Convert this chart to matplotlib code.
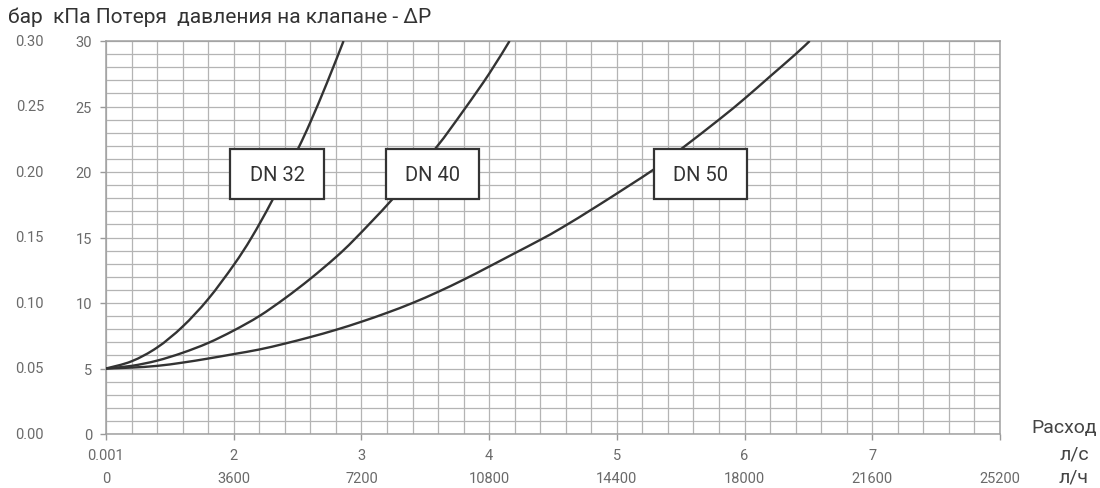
import numpy as np
import matplotlib
matplotlib.use('Agg')
import matplotlib.pyplot as plt
from matplotlib import transforms
from matplotlib.patches import Rectangle, PathPatch
from matplotlib.path import Path

plt.rcParams['font.family'] = ['Roboto', 'DejaVu Sans']

# flow (l/s scale position) vs pressure drop (kPa)
dn32_x = [0, 0.2, 0.4, 0.6, 0.8, 1.0, 1.14, 1.30, 1.50, 1.60, 1.73, 1.86]
dn32_y = [5, 5.55, 6.6, 8.2, 10.3, 12.9, 15.0, 17.8, 21.7, 23.8, 26.8, 30.0]

dn40_x = [0, 0.2, 0.4, 0.6, 0.8, 1.0, 1.2, 1.4, 1.6, 1.8, 1.95, 2.24, 2.58, 2.80, 3.00, 3.16]
dn40_y = [5, 5.2, 5.6, 6.2, 6.95, 7.9, 9.0, 10.35, 11.85, 13.5, 14.9, 17.9, 21.8, 24.7, 27.5, 30.0]

dn50_x = [0, 0.2, 0.4, 0.6, 0.8, 1.0, 1.2, 1.4, 1.6, 1.8, 2.0, 2.2, 2.4, 2.6, 2.8, 3.0,
          3.2, 3.4, 3.57, 3.87, 4.29, 4.50, 4.8, 5.0, 5.2, 5.4, 5.51]
dn50_y = [5, 5.07, 5.2, 5.45, 5.76, 6.1, 6.45, 6.9, 7.4, 7.95, 8.57, 9.25, 10.0, 10.85, 11.78, 12.78,
          13.8, 14.82, 15.75, 17.55, 20.2, 21.73, 24.0, 25.6, 27.3, 29.0, 30.0]

curve_names = ['DN 32', 'DN 40', 'DN 50']

kpa_ticks = [0, 5, 10, 15, 20, 25, 30]
bar_labels = ['0.00', '0.05', '0.10', '0.15', '0.20', '0.25', '0.30']
ls_labels = ['0.001', '2', '3', '4', '5', '6', '7', '']
lh_labels = ['0', '3600', '7200', '10800', '14400', '18000', '21600', '25200']


def smooth_path(xs, ys):
    # Catmull-Rom through the read points, drawn as cubic Bezier segments
    pts = np.column_stack([xs, ys]).astype(float)
    verts = [pts[0]]
    codes = [Path.MOVETO]
    n = len(pts)
    for i in range(n - 1):
        p0 = pts[i - 1] if i > 0 else pts[i]
        p1, p2 = pts[i], pts[i + 1]
        p3 = pts[i + 2] if i + 2 < n else pts[i + 1]
        verts += [p1 + (p2 - p0) / 6, p2 - (p3 - p1) / 6, p2]
        codes += [Path.CURVE4] * 3
    return Path(verts, codes)


W, H = 1100, 489
fig = plt.figure(figsize=(W / 100, H / 100), dpi=100)
ax = fig.add_axes([106 / W, 1 - 435 / H, 894 / W, 393 / H])

LINE = '#333333'
GRID = '#b4b4b4'
TXT = '#6a6a6a'

for xs, ys in [(dn32_x, dn32_y), (dn40_x, dn40_y), (dn50_x, dn50_y)]:
    ax.add_patch(PathPatch(smooth_path(xs, ys), facecolor='none', edgecolor=LINE,
                           lw=1.7, zorder=3, capstyle='butt'))

ax.set_xlim(0, 7)
ax.set_ylim(0, 30)

# grid
ax.set_xticks(np.arange(0, 7.001, 0.2), minor=True)
ax.set_yticks(np.arange(0, 31, 1), minor=True)
ax.grid(which='both', color=GRID, lw=0.9, zorder=1)
ax.set_axisbelow(True)

ax.set_xticks(range(8))
ax.set_xticklabels([a + '\n' + b for a, b in zip(ls_labels, lh_labels)], linespacing=1.8)
ax.set_yticks(kpa_ticks)
ax.set_yticklabels([str(v) for v in kpa_ticks])
ax.tick_params(which='minor', length=0)
ax.tick_params(which='major', length=4, width=1, color='#999999', labelcolor=TXT, labelsize=10.5, pad=6)

for s in ax.spines.values():
    s.set_color('#a0a0a0')
    s.set_linewidth(1.1)

# bar column
tr = transforms.blended_transform_factory(fig.transFigure, ax.transData)
for v, lab in zip(kpa_ticks, bar_labels):
    fig.text(44 / W, v, lab, transform=tr, ha='right', va='center', fontsize=10.5, color=TXT)

# curve label boxes
box_cx = [1.339, 2.554, 4.657]
box_w, box_y0, box_h = 0.73, 17.96, 3.77
for cx, name in zip(box_cx, curve_names):
    ax.add_patch(Rectangle((cx - box_w / 2, box_y0), box_w, box_h, facecolor='white',
                           edgecolor=LINE, lw=1.6, zorder=4))
    ax.text(cx, box_y0 + box_h / 2, name, ha='center', va='center', fontsize=14.5,
            color='#333333', zorder=5)

fig.text(8 / W, 1 - 17 / H, 'бар  кПа Потеря  давления на клапане - ΔР', ha='left',
         va='center', fontsize=15, color='#333333')
fig.text(1097 / W, 1 - 428 / H, 'Расход', ha='right', va='center', fontsize=14, color='#444444')
fig.text(1074 / W, 1 - 455 / H, 'л/с', ha='center', va='center', fontsize=14, color='#444444')
fig.text(1074 / W, 1 - 478 / H, 'л/ч', ha='center', va='center', fontsize=14, color='#444444')

fig.savefig('out.png', dpi=100)
